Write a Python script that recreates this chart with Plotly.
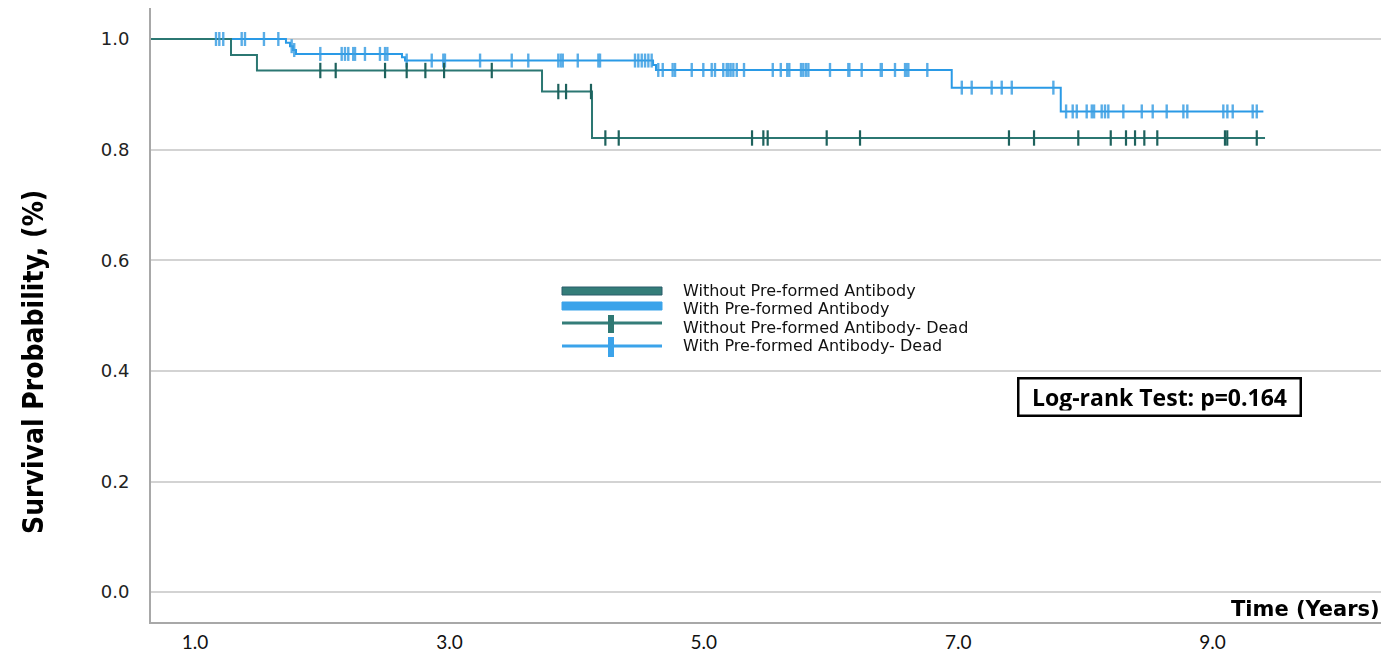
import numpy as np
import plotly.graph_objects as go

# ---------------- data (time in years, survival probability) ----------------
start_time = 0.65

without_event_times = [1.283, 1.487, 3.728, 4.121]
without_surv = [0.971, 0.943, 0.905, 0.821]
without_end = 9.412
without_censor = [1.985, 2.106, 2.494, 2.664, 2.811, 2.958, 3.333, 3.856, 3.917, 4.113,
                  4.226, 4.331, 5.379, 5.468, 5.502, 5.966, 6.228, 7.399, 7.596, 7.944,
                  8.199, 8.319, 8.390, 8.463, 8.565, 9.097, 9.115, 9.347]

with_event_times = [1.715, 1.747, 1.770, 1.794, 2.627, 2.651, 4.601, 4.624, 6.949, 7.806]
with_surv = [0.993, 0.987, 0.980, 0.973, 0.967, 0.961, 0.953, 0.944, 0.912, 0.869]
with_end = 9.399
with_censor = [1.165, 1.191, 1.222, 1.367, 1.393, 1.542, 1.655, 1.760, 1.780,
               1.985, 2.153, 2.179, 2.205, 2.244, 2.258, 2.336, 2.454, 2.494, 2.512,
               2.664, 2.861, 2.952, 2.965, 3.241, 3.490, 3.620, 3.856, 3.875, 3.891,
               4.009, 4.171, 4.184, 4.459, 4.485, 4.512, 4.538, 4.564, 4.590,
               4.642, 4.677, 4.755, 4.774, 4.905, 4.996, 5.062, 5.088, 5.153, 5.180,
               5.193, 5.211, 5.232, 5.259, 5.316, 5.542, 5.605, 5.656, 5.672, 5.764,
               5.782, 5.803, 5.822, 5.992, 6.136, 6.144, 6.241, 6.391, 6.399, 6.503,
               6.582, 6.595, 6.608, 6.757,
               7.028, 7.106, 7.263, 7.342, 7.421, 7.748,
               7.848, 7.900, 7.932, 8.010, 8.050, 8.068, 8.128, 8.154, 8.180, 8.298,
               8.443, 8.529, 8.639, 8.770, 8.801, 9.084, 9.116, 9.158, 9.315, 9.347]

x_ticks = [1.0, 3.0, 5.0, 7.0, 9.0]
y_ticks = [0.0, 0.2, 0.4, 0.6, 0.8, 1.0]

legend_labels = ["Without Pre-formed Antibody", "With Pre-formed Antibody",
                 "Without Pre-formed Antibody- Dead", "With Pre-formed Antibody- Dead"]
pvalue_text = "Log-rank Test: p=0.164"

TEAL = "#2b7772"
TEAL_DARK = "#1e625d"
BLUE = "#2a9ae6"
BLUE_MARK = "#3b9fe3"


def step_xy(times, surv, end):
    xs = [start_time] + list(times) + [end]
    ys = [1.0] + list(surv) + [surv[-1]]
    return xs, ys


def surv_at(t_list, times, surv):
    times = np.asarray(times)
    s = np.concatenate([[1.0], np.asarray(surv)])
    idx = np.searchsorted(times, np.asarray(t_list), side="right")
    return s[idx]


fig = go.Figure()

wx, wy = step_xy(without_event_times, without_surv, without_end)
bx, by = step_xy(with_event_times, with_surv, with_end)

fig.add_trace(go.Scatter(x=bx, y=by, mode="lines", line=dict(color=BLUE, width=2, shape="hv"),
                         showlegend=False, hoverinfo="skip"))
fig.add_trace(go.Scatter(x=wx, y=wy, mode="lines", line=dict(color=TEAL, width=2, shape="hv"),
                         showlegend=False, hoverinfo="skip"))

fig.add_trace(go.Scatter(x=with_censor, y=surv_at(with_censor, with_event_times, with_surv),
                         mode="markers",
                         marker=dict(symbol="line-ns", size=10, line=dict(color=BLUE_MARK, width=2.4)),
                         opacity=0.85, showlegend=False, hoverinfo="skip"))
fig.add_trace(go.Scatter(x=without_censor, y=surv_at(without_censor, without_event_times, without_surv),
                         mode="markers",
                         marker=dict(symbol="line-ns", size=11, line=dict(color=TEAL_DARK, width=2.2)),
                         showlegend=False, hoverinfo="skip"))

# ---------------- layout geometry (page pixels; page body has an 8px margin) ----------------
OFF = 8
W, H = 1389 - OFF, 653 - OFF
PLOT_L, PLOT_R, PLOT_T, PLOT_B = 151, 1386, 8, 622   # page pixel edges of plot area
L = PLOT_L - OFF
T = PLOT_T - OFF
R = W - (PLOT_R - OFF)
B = H - (PLOT_B - OFF)
PW, PH = PLOT_R - PLOT_L, PLOT_B - PLOT_T


def px_x(p):
    return (p - PLOT_L) / PW


def px_y(p):
    return (PLOT_B - p) / PH


shapes = []
# legend symbols
shapes.append(dict(type="rect", xref="paper", yref="paper", x0=px_x(562), x1=px_x(662),
                   y0=px_y(295), y1=px_y(287), fillcolor="#347d79", line=dict(color="#2a5c6a", width=1)))
shapes.append(dict(type="rect", xref="paper", yref="paper", x0=px_x(562), x1=px_x(662),
                   y0=px_y(310), y1=px_y(302), fillcolor="#3ba3ea", line=dict(color="#3ba3ea", width=1)))
shapes.append(dict(type="line", xref="paper", yref="paper", x0=px_x(562), x1=px_x(662),
                   y0=px_y(323), y1=px_y(323), line=dict(color="#347d79", width=3)))
shapes.append(dict(type="line", xref="paper", yref="paper", x0=px_x(611), x1=px_x(611),
                   y0=px_y(315), y1=px_y(333), line=dict(color="#2f7873", width=6)))
shapes.append(dict(type="line", xref="paper", yref="paper", x0=px_x(562), x1=px_x(662),
                   y0=px_y(346), y1=px_y(346), line=dict(color="#3ba3ea", width=3)))
shapes.append(dict(type="line", xref="paper", yref="paper", x0=px_x(611), x1=px_x(611),
                   y0=px_y(337), y1=px_y(357), line=dict(color="#3ba3ea", width=6)))

annotations = []
for lab, yy in zip(legend_labels, [290, 308.5, 327, 345.5]):
    annotations.append(dict(text=lab, xref="paper", yref="paper", x=px_x(681), y=px_y(yy),
                            xanchor="left", yanchor="middle", showarrow=False,
                            font=dict(family="DejaVu Sans", size=16, color="#111")))

annotations.append(dict(text="<b>" + pvalue_text + "</b>", xref="paper", yref="paper",
                        x=px_x(1159), y=px_y(397), xanchor="center", yanchor="middle",
                        showarrow=False, bordercolor="#000", borderwidth=2.5,
                        borderpad=4, width=272, height=27, bgcolor="white",
                        font=dict(family="Open Sans", size=23, color="#000")))

annotations.append(dict(text="<b>Time (Years)</b>", xref="paper", yref="paper",
                        x=px_x(1382), y=px_y(609), xanchor="right", yanchor="middle",
                        showarrow=False,
                        font=dict(family="DejaVu Sans", size=21, color="#000")))

annotations.append(dict(text="<b>Survival Probability, (%)</b>", xref="paper", yref="paper",
                        x=px_x(33), y=px_y(362), xanchor="center", yanchor="middle",
                        textangle=-90, showarrow=False,
                        font=dict(family="DejaVu Sans Condensed, Roboto, sans-serif", size=28, color="#000")))

fig.update_layout(
    width=W, height=H,
    margin=dict(l=L, r=R, t=T, b=B, pad=0, autoexpand=False),
    paper_bgcolor="white", plot_bgcolor="white",
    shapes=shapes, annotations=annotations,
    showlegend=False,
)

fig.update_xaxes(range=[0.654, 10.363], tickvals=x_ticks, ticktext=[f"{v:.1f}" for v in x_ticks],
                 showgrid=False, zeroline=False, showline=True, linecolor="#a8a8a8", linewidth=2,
                 ticks="", ticklabelstandoff=2, automargin=False,
                 tickfont=dict(family="Lato", size=19, color="#111"))
fig.update_yaxes(range=[-0.054, 1.056], tickvals=y_ticks, ticktext=[f"{v:.1f}" for v in y_ticks],
                 showgrid=True, gridcolor="#d3d3d3", gridwidth=2, zeroline=False,
                 showline=True, linecolor="#a8a8a8", linewidth=2,
                 ticks="", ticklabelstandoff=16, automargin=False,
                 tickfont=dict(family="DejaVu Sans", size=18, color="#222"))

fig.write_html("out.html")
